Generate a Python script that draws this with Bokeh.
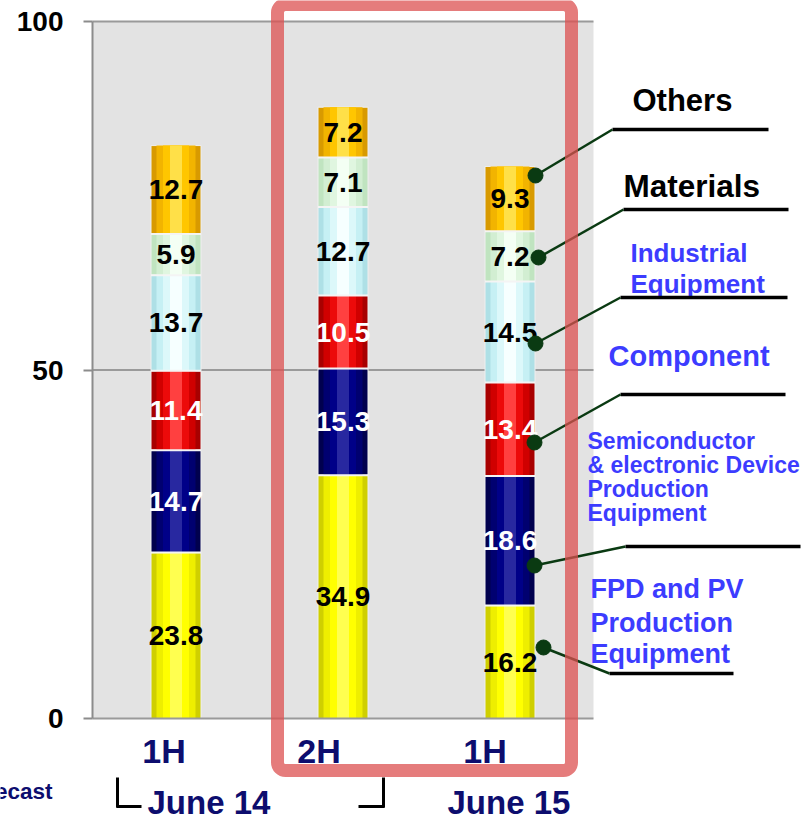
from bokeh.plotting import figure
from bokeh.models import FixedTicker, BoxAnnotation, ColumnDataSource, Range1d
from bokeh.embed import file_html
from bokeh.resources import INLINE
from bokeh.core.properties import value

# ---------------- data ----------------
periods = ["1H", "2H", "1H"]
years = ["June 14", "June 15"]
fpd = [23.8, 34.9, 16.2]          # FPD and PV Production Equipment
semi = [14.7, 15.3, 18.6]         # Semiconductor & electronic Device Production Equipment
component = [11.4, 10.5, 13.4]    # Component
industrial = [13.7, 12.7, 14.5]   # Industrial Equipment
materials = [5.9, 7.1, 7.2]       # Materials
others = [12.7, 7.2, 9.3]         # Others
y_ticks = [0, 50, 100]

series = [fpd, semi, component, industrial, materials, others]
# shading colours from the bar edge to its centre, and the value-label colour
styles = [
    (["#cfcf00", "#eeee00", "#ffff00", "#ffff50"], "black"),
    (["#00004e", "#000070", "#000088", "#2828a0"], "white"),
    (["#a80000", "#d00000", "#ec0a0a", "#ff4040"], "white"),
    (["#aee0e6", "#c6f0f4", "#dcf8fa", "#f6ffff"], "black"),
    (["#c0e4c0", "#d2eed2", "#e0f6e0", "#f4fff4"], "black"),
    (["#d89a00", "#f2b400", "#ffc600", "#ffe048"], "black"),
]

FONT = "Liberation Sans"
NAVY = "#0d0d6e"
BLUE = "#3c3cff"
GREEN = "#0a3a12"

W, H = 804, 822
PX0, PY0 = 92, 718        # pixel of x = 0 and y = 0
PPX = 167.0               # pixels per category
PPY = 697.0 / 100.0       # pixels per unit of value

x_range = Range1d(-PX0 / PPX, (W - PX0) / PPX)
y_range = Range1d(-(H - PY0) / PPY, PY0 / PPY)

p = figure(width=W, height=H, output_backend="svg", toolbar_location=None,
           x_range=x_range, y_range=y_range,
           min_border_left=0, min_border_right=0, min_border_top=0, min_border_bottom=0)
p.background_fill_color = "white"
p.border_fill_color = "white"
p.outline_line_color = None
p.xgrid.visible = False
p.ygrid.visible = False


def dx(px):
    return (px - PX0) / PPX


def dy(py):
    return (PY0 - py) / PPY


n = len(periods)

# plot area and value grid lines
p.quad(left=0, right=n, bottom=y_ticks[0], top=y_ticks[-1],
       fill_color="#e3e3e3", line_color=None)
p.segment(x0=[0] * (len(y_ticks) - 1), x1=[n] * (len(y_ticks) - 1),
          y0=y_ticks[1:], y1=y_ticks[1:], line_color="#9a9a9a", line_width=2)

# y axis
ya = p.yaxis[0]
ya.fixed_location = 0
ya.bounds = (y_ticks[0], y_ticks[-1])
ya.ticker = FixedTicker(ticks=y_ticks)
ya.minor_tick_line_color = None
ya.axis_line_color = "#8c8c8c"
ya.axis_line_width = 2
ya.major_tick_line_color = "#8c8c8c"
ya.major_tick_line_width = 2
ya.major_tick_out = 9
ya.major_tick_in = 0
ya.major_label_standoff = 20
ya.major_label_text_font = FONT
ya.major_label_text_font_style = "bold"
ya.major_label_text_font_size = "28px"
ya.major_label_text_color = "black"

# x axis: period labels (a little left of the bar centres, as in the original)
label_shift_px = [-12, -24, -25]
xt = [round(i + 0.5 + s / PPX, 4) for i, s in enumerate(label_shift_px)]
xa = p.xaxis[0]
xa.fixed_location = 0
xa.bounds = (0, n)
xa.ticker = FixedTicker(ticks=xt)
xa.major_label_overrides = {t: lab for t, lab in zip(xt, periods)}
xa.minor_tick_line_color = None
xa.major_tick_line_color = None
xa.major_tick_out = 0
xa.major_tick_in = 0
xa.axis_line_color = "#9a9a9a"
xa.axis_line_width = 2
xa.major_label_standoff = 13
xa.major_label_text_font = FONT
xa.major_label_text_font_style = "bold"
xa.major_label_text_font_size = "34px"
xa.major_label_text_color = NAVY

# ---------------- stacked bars ----------------
xs = [i + 0.5 for i in range(n)]
BW = 50 / PPX
widths = [1.0, 0.78, 0.52, 0.24]
bottoms = [0.0] * n
label_sources = []
for vals, (shades, tc) in zip(series, styles):
    tops = [b + v for b, v in zip(bottoms, vals)]
    src = ColumnDataSource(dict(x=xs, bottom=bottoms, top=tops,
                                ym=[(b + t) / 2 for b, t in zip(bottoms, tops)],
                                lab=[f"{v:.1f}" for v in vals], tc=[tc] * n))
    for k, (fw, col) in enumerate(zip(widths, shades)):
        p.vbar(x="x", width=BW * fw, bottom="bottom", top="top", source=src,
               fill_color=col, line_color="#efefef" if k == 0 else None, line_width=1)
    label_sources.append(src)
    bottoms = tops

# segment separators
sep_x0, sep_x1, sep_y = [], [], []
cum = [0.0] * n
for vals in series[:-1]:
    cum = [c + v for c, v in zip(cum, vals)]
    for x, c in zip(xs, cum):
        sep_x0.append(x - BW / 2)
        sep_x1.append(x + BW / 2)
        sep_y.append(c)
p.segment(x0=sep_x0, x1=sep_x1, y0=sep_y, y1=sep_y, line_color="#f4f4f4", line_width=2)

# value labels
for src in label_sources:
    p.text(x="x", y="ym", text="lab", source=src, text_color="tc",
           text_font=value(FONT), text_font_style="bold", text_font_size="28px",
           text_align="center", text_baseline="middle")

# ---------------- red highlight box ----------------
p.add_layout(BoxAnnotation(left=dx(277), right=dx(571), top=dy(4), bottom=dy(770),
                           fill_alpha=0, line_color="#dc5050", line_alpha=0.75,
                           line_width=13, border_radius=8))

# ---------------- callouts ----------------
legend_items = [
    # lines of text, left px, line centres px, size, colour, underline (x0,x1,y), dot px
    (["Others"], 632, [100], "31px", "black", (612, 768, 129), (535, 175)),
    (["Materials"], 623, [185], "31.5px", "black", (623, 788, 209), (538, 257)),
    (["Industrial", "Equipment"], 630, [252, 283], "26px", BLUE, (620, 787, 297), (535, 343)),
    (["Component"], 608, [355], "29px", BLUE, (620, 785, 394), (534, 442)),
    (["Semiconductor", "& electronic Device", "Production", "Equipment"], 587,
     [440, 464, 488, 512], "23px", BLUE, (625, 800, 546), (534, 565)),
    (["FPD and PV", "Production", "Equipment"], 590, [588, 622, 653], "27px", BLUE,
     (609, 733, 673), (543, 647)),
]
ul_x0, ul_x1, ul_y, ld_x0, ld_y0 = [], [], [], [], []
for lines, lx, cys, fs, col, ul, dot in legend_items:
    p.text(x=[dx(lx)] * len(lines), y=[dy(c) for c in cys], text=lines,
           text_font=value(FONT), text_font_style="bold", text_font_size=fs,
           text_color=col, text_align="left", text_baseline="middle")
    ul_x0.append(dx(ul[0]))
    ul_x1.append(dx(ul[1]))
    ul_y.append(dy(ul[2]))
    ld_x0.append(dx(dot[0]))
    ld_y0.append(dy(dot[1]))
p.segment(x0=ul_x0, x1=ul_x1, y0=ul_y, y1=ul_y, line_color="black", line_width=3.5)
p.segment(x0=ld_x0, y0=ld_y0, x1=ul_x0, y1=ul_y, line_color=GREEN, line_width=2.5)
p.scatter(x=ld_x0, y=ld_y0, size=15, fill_color=GREEN, line_color=GREEN)

# ---------------- year labels & brackets ----------------
p.text(x=[dx(147), dx(447)], y=[dy(802), dy(802)], text=years,
       text_font=value(FONT), text_font_style="bold", text_font_size="33px",
       text_color=NAVY, text_align="left", text_baseline="middle")
p.text(x=[dx(52)], y=[dy(791)], text=["Forecast"],
       text_font=value(FONT), text_font_style="bold", text_font_size="22.5px",
       text_color=NAVY, text_align="right", text_baseline="middle")
br = [(117, 777, 117, 807), (116, 806, 141, 806), (358, 806, 384, 806), (383, 807, 383, 777)]
p.segment(x0=[dx(a) for a, _, _, _ in br], y0=[dy(b) for _, b, _, _ in br],
          x1=[dx(c) for _, _, c, _ in br], y1=[dy(d) for _, _, _, d in br],
          line_color="black", line_width=3)

open("out.html", "w").write(file_html(p, INLINE))
